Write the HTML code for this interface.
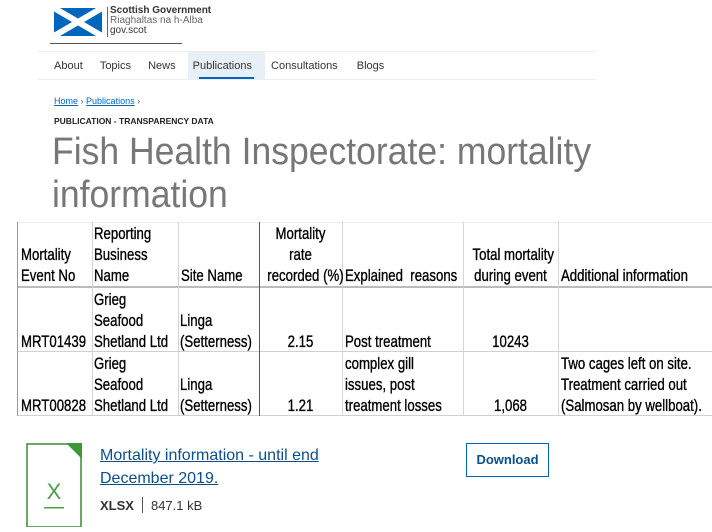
<!DOCTYPE html>
<html><head><meta charset="utf-8"><style>
body{margin:0;width:712px;height:532px;background:#fff;position:relative;overflow:hidden;font-family:"Liberation Sans",sans-serif}
.a{position:absolute;white-space:nowrap}
.t{position:absolute;font-family:"Liberation Sans",sans-serif;font-size:16.5px;line-height:21px;color:#000;white-space:nowrap;transform:scaleX(0.8);transform-origin:0 0;-webkit-text-stroke:0.35px #000}
.c{text-align:center;transform-origin:50% 0}
.vl{position:absolute;width:1px;background:#d4d4d4}
.hl{position:absolute;height:1px;background:#d0d0d0}
</style></head><body>
<div class="a" style="left:54px;top:8px;width:160px;height:30px">
<svg width="48" height="28"><rect width="48" height="28" fill="#0065bd"/><path d="M0 0L48 28M48 0L0 28" stroke="#fff" stroke-width="6"/></svg>
<div class="a" style="left:53px;top:-1px;width:1px;height:30px;background:#666"></div>
<div class="a" style="left:56px;top:-2px;font-size:10px;line-height:10px;color:#333"><b style="font-weight:600">Scottish Government</b><br><span style="color:#666">Riaghaltas na h-Alba</span><br>gov.scot</div>
</div>
<div class="hl" style="left:50px;top:43px;width:132px;background:#555"></div>
<div class="hl" style="left:38px;top:51px;width:558px;background:#eee"></div>
<div class="hl" style="left:38px;top:79px;width:558px;background:#eee"></div>
<div class="a" style="left:188px;top:52px;width:77px;height:27px;background:#e8f0f7"></div>
<div class="a" style="left:199px;top:77px;width:55px;height:2px;background:#0065bd"></div>
<div class="a" style="left:54px;top:60px;font-size:11px;color:#333">
<span>About</span>
<span style="margin-left:14px">Topics</span>
<span style="margin-left:14px">News</span>
<span style="margin-left:14px">Publications</span>
<span style="margin-left:16px">Consultations</span>
<span style="margin-left:16px">Blogs</span>
</div>
<div class="a" style="left:54px;top:96px;font-size:9px;color:#0065bd"><u>Home</u> <span style="color:#555">›</span> <u>Publications</u> <span style="color:#555">›</span></div>
<div class="a" style="left:54px;top:116px;font-size:8.5px;font-weight:bold;color:#222">PUBLICATION - TRANSPARENCY DATA</div>
<div class="a" style="left:52px;top:131px;font-size:38px;line-height:43px;color:#777;transform:scaleX(0.935);transform-origin:0 0">Fish Health Inspectorate: mortality<br>information</div>

<div class="a" style="left:0;top:218px;width:712px;height:200px">
<div class="hl" style="left:17px;top:4px;width:695px;background:#eee"></div>
<div class="hl" style="left:17px;top:68px;width:695px;height:2px;background:#bbb"></div>
<div class="hl" style="left:17px;top:133px;width:695px"></div>
<div class="hl" style="left:17px;top:197px;width:695px"></div>
<div class="vl" style="left:17px;top:4px;height:194px;background:#999"></div>
<div class="vl" style="left:92px;top:4px;height:194px"></div>
<div class="vl" style="left:178px;top:4px;height:194px"></div>
<div class="vl" style="left:259px;top:4px;height:194px;background:#555"></div>
<div class="vl" style="left:342px;top:4px;height:194px"></div>
<div class="vl" style="left:463px;top:4px;height:194px"></div>
<div class="vl" style="left:558px;top:4px;height:194px"></div>
</div>
<div class="t" style="left:21px;top:245px">Mortality<br>Event No</div>
<div class="t" style="left:94px;top:224px">Reporting<br>Business<br>Name</div>
<div class="t" style="left:181px;top:266px">Site Name</div>
<div class="t c" style="left:259px;top:224px;width:83px">Mortality<br>rate<br>recorded&nbsp;(%)</div>
<div class="t" style="left:345px;top:266px">Explained &nbsp;reasons</div>
<div class="t c" style="left:463px;top:245px;width:95px">Total mortality<br>during event</div>
<div class="t" style="left:561px;top:266px">Additional information</div>

<div class="t" style="left:21px;top:332px">MRT01439</div>
<div class="t" style="left:94px;top:290px">Grieg<br>Seafood<br>Shetland Ltd</div>
<div class="t" style="left:180px;top:311px">Linga<br>(Setterness)</div>
<div class="t c" style="left:259px;top:332px;width:83px">2.15</div>
<div class="t" style="left:345px;top:332px">Post treatment</div>
<div class="t c" style="left:463px;top:332px;width:95px">10243</div>

<div class="t" style="left:21px;top:396px">MRT00828</div>
<div class="t" style="left:94px;top:354px">Grieg<br>Seafood<br>Shetland Ltd</div>
<div class="t" style="left:180px;top:375px">Linga<br>(Setterness)</div>
<div class="t c" style="left:259px;top:396px;width:83px">1.21</div>
<div class="t" style="left:345px;top:354px">complex gill<br>issues, post<br>treatment losses</div>
<div class="t c" style="left:463px;top:396px;width:95px">1,068</div>
<div class="t" style="left:561px;top:354px">Two cages left on site.<br>Treatment carried out<br>(Salmosan by wellboat).</div>

<svg class="a" style="left:26px;top:443px" width="58" height="84"><path d="M1 1H55V84H1Z" fill="#fff" stroke="#3a8a3a" stroke-width="1.5"/><path d="M40 0H56V16Z" fill="#3a9a3a"/><text x="28" y="56" text-anchor="middle" font-family="Liberation Sans" font-size="22" fill="#4aa04a" font-weight="300">X</text><rect x="18" y="64" width="20" height="1.5" fill="#4aa04a"/></svg>
<div class="a" style="left:100px;top:444px;font-size:16px;line-height:23px;color:#0b4f8a;text-decoration:underline">Mortality information - until end<br>December 2019.</div>
<div class="a" style="left:100px;top:497px;font-size:13px;color:#333"><b>XLSX</b><span style="display:inline-block;width:1px;height:16px;background:#555;margin:0 8px;vertical-align:-3px"></span>847.1 kB</div>
<div class="a" style="left:466px;top:443px;width:81px;height:32px;border:1px solid #0065bd;color:#0b4f8a;font-size:13px;font-weight:bold;line-height:32px;text-align:center">Download</div>
</body></html>
